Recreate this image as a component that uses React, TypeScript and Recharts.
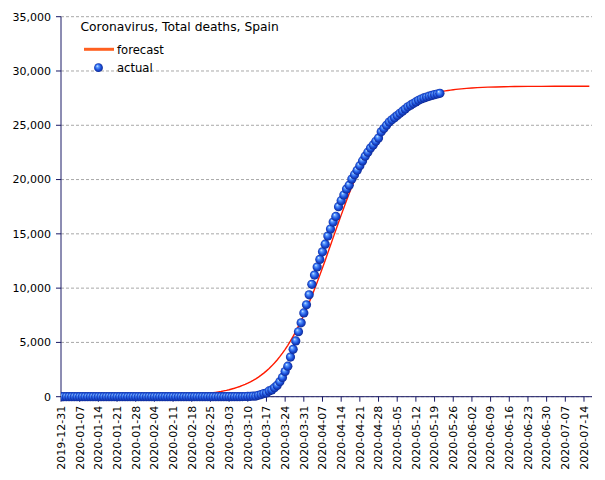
import React from "react";
import { ComposedChart, Line, Scatter, XAxis, YAxis, CartesianGrid } from "recharts";

// Day index 0 = 2019-12-31
const xTickDays = [0, 7, 14, 21, 28, 35, 42, 49, 56, 63, 70, 77, 84, 91, 98, 105, 112, 119, 126, 133, 140, 147, 154, 161, 168, 175, 182, 189, 196];
const xTickLabels = [
  "2019-12-31", "2020-01-07", "2020-01-14", "2020-01-21", "2020-01-28", "2020-02-04", "2020-02-11",
  "2020-02-18", "2020-02-25", "2020-03-03", "2020-03-10", "2020-03-17", "2020-03-24", "2020-03-31",
  "2020-04-07", "2020-04-14", "2020-04-21", "2020-04-28", "2020-05-05", "2020-05-12", "2020-05-19",
  "2020-05-26", "2020-06-02", "2020-06-09", "2020-06-16", "2020-06-23", "2020-06-30", "2020-07-07", "2020-07-14",
];
const yTicks = [0, 5000, 10000, 15000, 20000, 25000, 30000, 35000];

// Actual cumulative deaths, one value per day from day 0
const actualValues = [
  0, 0, 0, 0, 0, 0, 0, 0, 0, 0, 0, 0, 0, 0, 0, 0, 0, 0, 0, 0, 0, 0, 0, 0, 0, 0, 0, 0, 0, 0, 0, 0,
  0, 0, 0, 0, 0, 0, 0, 0, 0, 0, 0, 0, 0, 0, 0, 0, 0, 0, 0, 0, 0, 0, 0, 0, 0, 0, 0, 0, 0, 0, 0, 0,
  1, 2, 3, 5, 10, 17, 28, 35, 54, 55, 133, 195, 289, 342, 533, 623, 830, 1043, 1375, 1772, 2311,
  2808, 3647, 4365, 5138, 5982, 6803, 7716, 8464, 9387, 10348, 11198, 11947, 12641, 13341, 14045,
  14792, 15447, 16081, 16606, 17500,
  18056, 18579, 19130, 19478, 20043, 20453, 20852, 21282, 21717, 22157, 22524, 22902, 23190, 23521,
  23822, 24400, 24700, 25000, 25300, 25500, 25700, 25900, 26100, 26300, 26500, 26700, 26850, 27000,
  27150, 27300, 27420, 27520, 27600, 27680, 27750, 27820, 27880, 27940,
];

// Forecast: daily values from day 50 to day 150, then a sparser tail
const forecastDailyStart = 50;
const forecastDaily = [
  183, 202, 222, 245, 270, 297, 327, 361, 397, 437, 481, 531, 584, 643, 708, 777, 856, 941, 1034, 1136,
  1248, 1370, 1504, 1650, 1809, 1983, 2172, 2377, 2600, 2840, 3102, 3381, 3686, 4011, 4360, 4735, 5135,
  5564, 6015, 6494, 7000, 7530, 8086, 8667, 9271, 9893, 10538, 11198, 11872, 12555, 13253, 13951, 14652,
  15352, 16040, 16725, 17407, 18067, 18705, 19324, 19930, 20517, 21076, 21601, 22102, 22591, 23046, 23462,
  23873, 24237, 24592, 24913, 25220, 25490, 25766, 26000, 26224, 26428, 26617, 26792, 26951, 27096, 27230,
  27353, 27463, 27566, 27660, 27745, 27821, 27892, 27957, 28017, 28070, 28119, 28163, 28202, 28239, 28272,
  28303, 28331, 28356,
];
const forecastTailDays = [152, 154, 156, 158, 160, 163, 166, 170, 175, 180, 185, 190, 198];
const forecastTailValues = [28398, 28435, 28463, 28489, 28509, 28531, 28549, 28566, 28579, 28587, 28591, 28594, 28597];

const actualData = actualValues.map((v, i) => ({ d: i, v }));
const forecastData = [
  ...forecastDaily.map((v, i) => ({ d: forecastDailyStart + i, v })),
  ...forecastTailDays.map((d, i) => ({ d, v: forecastTailValues[i] })),
];

const FONT = "'DejaVu Sans', Verdana, sans-serif";
const AXIS_COLOR = "#1a1a66";

const XTick = (props: any) => {
  const { x, y, payload } = props;
  const idx = xTickDays.indexOf(payload.value);
  const label = idx >= 0 ? xTickLabels[idx] : "";
  return (
    <text
      x={x}
      y={y}
      dy="0.35em"
      transform={`rotate(-90 ${x} ${y})`}
      textAnchor="end"
      fontFamily={FONT}
      fontSize={11}
      fill="#000"
    >
      {label}
    </text>
  );
};

const Ball = (props: any) => {
  const { cx, cy } = props;
  if (cx == null || cy == null) return null;
  return <circle cx={cx} cy={cy} r={4.6} fill="url(#ballGrad)" />;
};

export default function App() {
  return (
    <div style={{ position: "absolute", left: 0, top: 0, width: 605, height: 480, background: "#fff" }}>
      <svg width={0} height={0} style={{ position: "absolute" }}>
        <defs>
          <radialGradient id="ballGrad" cx="0.5" cy="0.5" r="0.55" fx="0.35" fy="0.3">
            <stop offset="0%" stopColor="#d8ecff" />
            <stop offset="25%" stopColor="#5b9bff" />
            <stop offset="60%" stopColor="#1d52dc" />
            <stop offset="100%" stopColor="#0a1f86" />
          </radialGradient>
        </defs>
      </svg>
      <ComposedChart
        width={605}
        height={480}
        margin={{ top: 16.7, right: 13, bottom: 0, left: 0 }}
      >
        <CartesianGrid horizontal={true} vertical={false} stroke="#a8a8a8" strokeDasharray="3 2" />
        <XAxis
          dataKey="d"
          type="number"
          domain={[0, 199]}
          ticks={xTickDays}
          interval={0}
          allowDataOverflow
          height={83.3}
          tickSize={5}
          tickMargin={4}
          stroke={AXIS_COLOR}
          tickLine={{ stroke: AXIS_COLOR }}
          tick={<XTick />}
        />
        <YAxis
          type="number"
          domain={[0, 35000]}
          ticks={yTicks}
          interval={0}
          width={61}
          tickSize={5}
          tickMargin={5}
          stroke={AXIS_COLOR}
          tickLine={{ stroke: AXIS_COLOR }}
          tick={{ fill: "#000", fontFamily: FONT, fontSize: 11 }}
          tickFormatter={(v: number) => v.toLocaleString("en-US")}
        />
        <Line
          data={forecastData}
          dataKey="v"
          type="linear"
          stroke="#ff1a00"
          strokeWidth={1.4}
          dot={false}
          activeDot={false}
          isAnimationActive={false}
        />
        <Scatter
          data={actualData}
          dataKey="v"
          shape={<Ball />}
          isAnimationActive={false}
        />
      </ComposedChart>
      <svg width={605} height={480} style={{ position: "absolute", left: 0, top: 0, pointerEvents: "none" }}>
        <text x={80.5} y={31} fontFamily={FONT} fontSize={12.3} fill="#000">
          Coronavirus, Total deaths, Spain
        </text>
        <line x1={84} y1={49.3} x2={114} y2={49.3} stroke="#ff6020" strokeWidth={3} />
        <text x={117} y={54} fontFamily={FONT} fontSize={11.6} fill="#000">forecast</text>
        <circle cx={98.5} cy={67.7} r={4.4} fill="url(#ballGrad)" />
        <text x={117} y={71.7} fontFamily={FONT} fontSize={11.6} fill="#000">actual</text>
      </svg>
    </div>
  );
}
